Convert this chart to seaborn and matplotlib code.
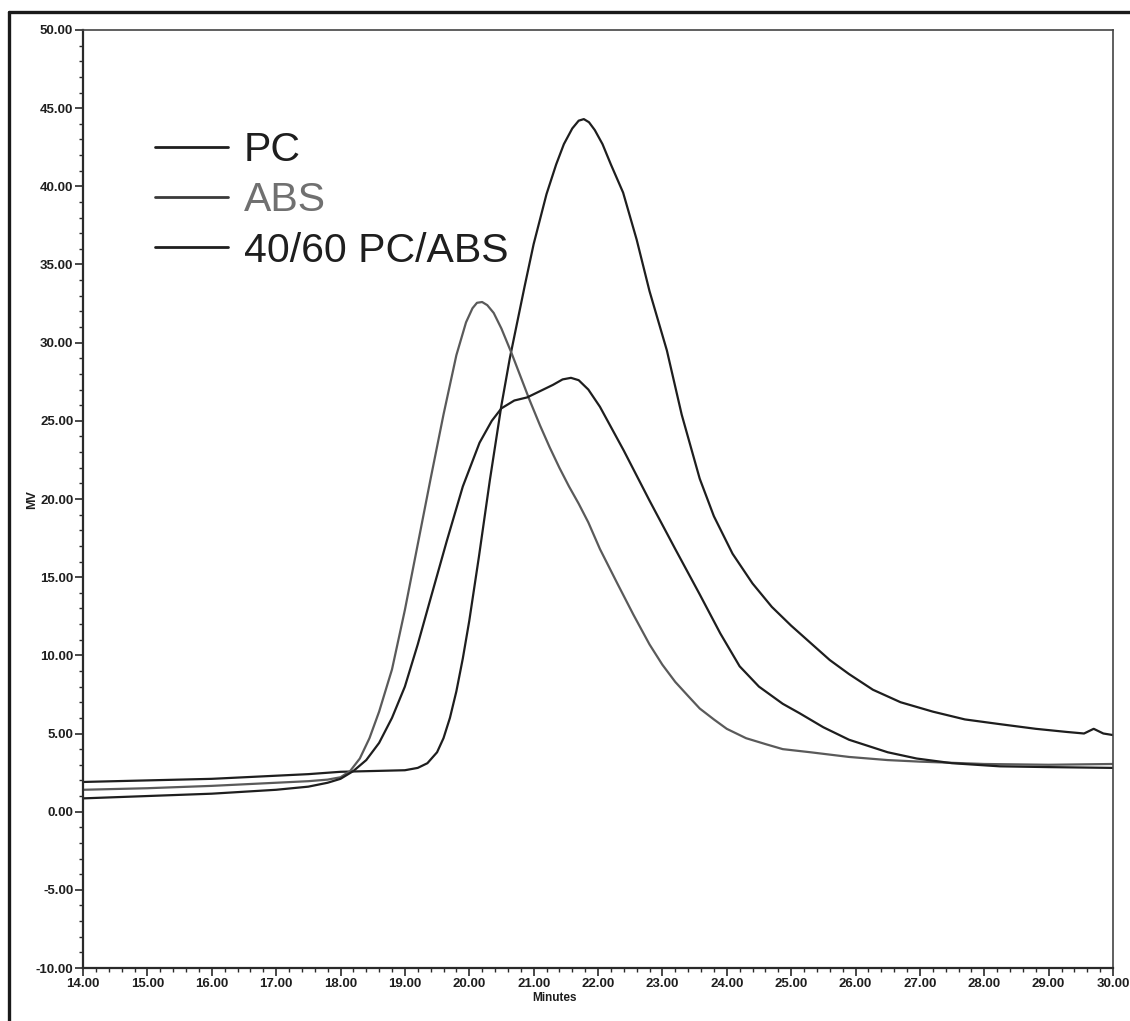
import numpy as np
import pandas as pd
import matplotlib
matplotlib.use("Agg")
import matplotlib.pyplot as plt
from matplotlib.lines import Line2D
from matplotlib.ticker import MultipleLocator, FormatStrFormatter
import seaborn as sns

# ---------------- data ----------------
pc_min = [14.0, 15.0, 16.0, 17.0, 17.5, 18.0, 18.5, 19.0, 19.2, 19.35, 19.5, 19.6,
          19.7, 19.8, 19.9, 20.0, 20.15, 20.32, 20.5, 20.63, 20.86, 21.0, 21.2, 21.35,
          21.47, 21.6, 21.7, 21.78, 21.86, 21.95, 22.07, 22.2, 22.39, 22.6, 22.8,
          23.07, 23.3, 23.58, 23.8, 24.09, 24.4, 24.7, 25.0, 25.3, 25.6, 25.9, 26.27,
          26.7, 27.2, 27.7, 28.24, 28.8, 29.28, 29.55, 29.7, 29.85, 30.0]
pc_mv = [1.9, 2.0, 2.1, 2.3, 2.4, 2.55, 2.6, 2.65, 2.8, 3.1, 3.8, 4.7,
         6.0, 7.7, 9.8, 12.2, 16.3, 21.2, 26.0, 29.0, 33.6, 36.3, 39.5, 41.4,
         42.7, 43.7, 44.2, 44.3, 44.1, 43.6, 42.7, 41.4, 39.6, 36.6, 33.3,
         29.5, 25.4, 21.3, 18.9, 16.5, 14.6, 13.1, 11.9, 10.8, 9.7, 8.8, 7.8,
         7.0, 6.4, 5.9, 5.6, 5.3, 5.1, 5.0, 5.3, 5.0, 4.9]

abs_min = [14.0, 15.0, 16.0, 17.0, 17.5, 17.8, 18.0, 18.15, 18.3, 18.45, 18.6, 18.8,
           19.0, 19.2, 19.4, 19.6, 19.8, 19.95, 20.05, 20.12, 20.2, 20.28, 20.38,
           20.5, 20.66, 20.8, 20.94, 21.1, 21.25, 21.4, 21.55, 21.7, 21.85, 22.03,
           22.3, 22.55, 22.8, 23.0, 23.2, 23.4, 23.58, 23.8, 24.0, 24.3, 24.62,
           24.87, 25.3, 25.9, 26.5, 27.0, 28.0, 29.0, 30.0]
abs_mv = [1.4, 1.5, 1.65, 1.85, 1.95, 2.05, 2.2, 2.6, 3.4, 4.7, 6.4, 9.1,
          12.9, 17.1, 21.3, 25.4, 29.2, 31.3, 32.2, 32.55, 32.6, 32.4, 31.9,
          30.9, 29.3, 27.8, 26.3, 24.7, 23.3, 22.0, 20.8, 19.7, 18.5, 16.8,
          14.6, 12.6, 10.7, 9.4, 8.3, 7.4, 6.6, 5.9, 5.3, 4.7, 4.3,
          4.0, 3.8, 3.5, 3.3, 3.2, 3.05, 3.0, 3.05]

blend_min = [14.0, 15.0, 16.0, 17.0, 17.5, 17.8, 18.0, 18.2, 18.4, 18.6, 18.8, 19.0,
             19.2, 19.39, 19.65, 19.9, 20.16, 20.35, 20.5, 20.7, 20.9, 21.1, 21.3,
             21.45, 21.58, 21.7, 21.85, 22.03, 22.4, 22.8, 23.2, 23.58, 23.9, 24.2,
             24.5, 24.87, 25.13, 25.5, 25.9, 26.2, 26.5, 26.95, 27.5, 28.24, 29.0, 30.0]
blend_mv = [0.85, 1.0, 1.15, 1.4, 1.6, 1.85, 2.1, 2.6, 3.3, 4.4, 6.0, 8.0,
            10.7, 13.5, 17.3, 20.8, 23.6, 25.0, 25.8, 26.3, 26.5, 26.9, 27.3,
            27.65, 27.75, 27.6, 27.0, 25.9, 23.1, 19.9, 16.8, 13.9, 11.4, 9.3,
            8.0, 6.9, 6.3, 5.4, 4.6, 4.2, 3.8, 3.4, 3.1, 2.9, 2.85, 2.8]

series_names = ["PC", "ABS", "40/60 PC/ABS"]
line_colors = ["#1e1e1e", "#5a5a5a", "#1e1e1e"]
legend_line_colors = ["#1e1e1e", "#3a3a3a", "#1e1e1e"]
text_colors = ["#1e1e1e", "#707070", "#1e1e1e"]

x_ticks = [14, 15, 16, 17, 18, 19, 20, 21, 22, 23, 24, 25, 26, 27, 28, 29, 30]
y_ticks = [-10, -5, 0, 5, 10, 15, 20, 25, 30, 35, 40, 45, 50]

df = pd.concat([
    pd.DataFrame({"Minutes": pc_min, "MV": pc_mv, "sample": series_names[0]}),
    pd.DataFrame({"Minutes": abs_min, "MV": abs_mv, "sample": series_names[1]}),
    pd.DataFrame({"Minutes": blend_min, "MV": blend_mv, "sample": series_names[2]}),
], ignore_index=True)

# ---------------- style ----------------
sns.set_theme(style="ticks")
plt.rcParams["font.family"] = ["Liberation Sans Narrow", "Liberation Sans", "DejaVu Sans"]

fig = plt.figure(figsize=(11.3, 10.21), dpi=100, facecolor="white")
ax = fig.add_axes([83 / 1130, 1 - 968 / 1021, (1113 - 83) / 1130, (968 - 30) / 1021])

sns.lineplot(data=df, x="Minutes", y="MV", hue="sample", hue_order=series_names,
             palette=dict(zip(series_names, line_colors)), estimator=None,
             sort=False, linewidth=1.6, ax=ax)
for ln in ax.get_lines():
    ln.set_solid_joinstyle("round")

ax.set_xlim(14, 30)
ax.set_ylim(-10, 50)
ax.set_xticks(x_ticks)
ax.set_yticks(y_ticks)
ax.xaxis.set_minor_locator(MultipleLocator(0.2))
ax.yaxis.set_minor_locator(MultipleLocator(1))
ax.xaxis.set_major_formatter(FormatStrFormatter("%.2f"))
ax.yaxis.set_major_formatter(FormatStrFormatter("%.2f"))

ax.tick_params(axis="both", which="major", direction="out", length=6, width=1.2,
               color="#2a2a2a", labelsize=9.5, labelcolor="#1e1e1e", pad=1)
ax.tick_params(axis="both", which="minor", direction="out", length=3, width=1.0,
               color="#2a2a2a")
for lab in ax.get_xticklabels() + ax.get_yticklabels():
    lab.set_fontweight("bold")

for side in ["left", "bottom"]:
    ax.spines[side].set_color("#2a2a2a")
    ax.spines[side].set_linewidth(1.6)
for side in ["top", "right"]:
    ax.spines[side].set_visible(True)
    ax.spines[side].set_color("#444444")
    ax.spines[side].set_linewidth(1.2)

ax.set_xlabel("Minutes", fontsize=8.5, fontweight="bold", color="#1e1e1e")
ax.set_ylabel("MV", fontsize=9, fontweight="bold", color="#1e1e1e")
ax.xaxis.set_label_coords(0.458, -0.026)
ax.yaxis.set_label_coords(-0.044, 0.499)

# legend
handles = [Line2D([], [], color=c, linewidth=2.0) for c in legend_line_colors]
leg = ax.legend(handles, series_names, loc="upper left",
                bbox_to_anchor=((155 - 83) / 1030, 1 - (131 - 30) / 938),
                frameon=False, handlelength=1.78, handletextpad=0.38,
                labelspacing=0.3, borderpad=0, borderaxespad=0,
                prop={"family": ["Liberation Sans", "DejaVu Sans"], "size": 29.5})
for t, c in zip(leg.get_texts(), text_colors):
    t.set_color(c)

# outer frame of the scanned page
fig.add_artist(Line2D([9 / 1130, 9 / 1130], [0, 1 - 12 / 1021],
                      transform=fig.transFigure, color="#1a1a1a", linewidth=2.4))
fig.add_artist(Line2D([9 / 1130, 1], [1 - 12 / 1021, 1 - 12 / 1021],
                      transform=fig.transFigure, color="#1a1a1a", linewidth=2.4))

fig.savefig("out.png", dpi=100, facecolor="white")
